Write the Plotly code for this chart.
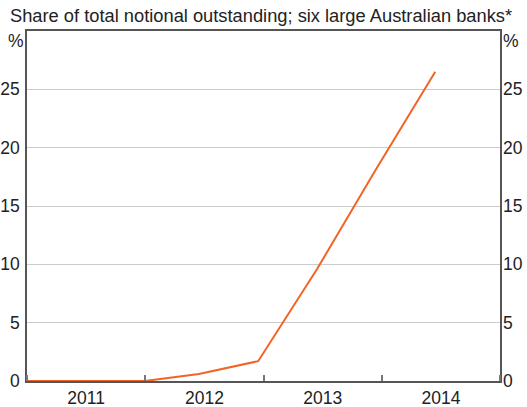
import plotly.graph_objects as go

# semi-annual observations
dates = ['2010-12-15', '2011-06-15', '2011-12-31', '2012-06-15', '2012-12-15',
         '2013-06-15', '2013-12-15', '2014-06-15']
share = [0, 0, 0, 0.6, 1.7, 9.6, 18.2, 26.5]

y_ticks = [0, 5, 10, 15, 20, 25]
y_text = ['0', '5', '10', '15', '20', '25']

subtitle = 'Share of total notional outstanding; six large Australian banks*'

tick_font = dict(family='Arial, Liberation Sans, sans-serif', size=17.5, color='#222222')
sub_font = dict(family='Arial, Liberation Sans, sans-serif', size=18.3, color='#222222')

fig = go.Figure()
fig.add_trace(go.Scatter(x=dates, y=share, mode='lines',
                         line=dict(color='#F26425', width=2), showlegend=False))
# copy on the right axis so it gets drawn
fig.add_trace(go.Scatter(x=dates, y=share, mode='lines', yaxis='y2',
                         line=dict(color='rgba(0,0,0,0)', width=0),
                         hoverinfo='skip', showlegend=False))

fig.update_layout(
    width=527, height=407,
    margin=dict(l=27, r=27, t=31, b=26),
    paper_bgcolor='white', plot_bgcolor='white',
    font=tick_font,
    xaxis=dict(type='date', range=['2011-01-01', '2015-01-01'],
               tick0='2011-01-01', dtick='M12', tickformat='%Y',
               ticklabelmode='period', ticks='inside', ticklen=6,
               tickcolor='#777777', tickwidth=1.5, automargin=False,
               showgrid=False, showline=True, linecolor='#555555',
               linewidth=1.5, mirror=True, tickfont=tick_font,
               ticklabelstandoff=0),
    yaxis=dict(range=[0, 30], tickvals=y_ticks, ticktext=y_text,
               showgrid=True, gridcolor='#cccccc', gridwidth=1,
               zeroline=False, ticks='', showline=True, linecolor='#555555',
               linewidth=1.5, mirror=True, tickfont=tick_font,
               automargin=False, ticklabelstandoff=2),
    yaxis2=dict(range=[0, 30], tickvals=y_ticks, ticktext=y_text,
                overlaying='y', side='right', showgrid=False, zeroline=False,
                ticks='', showline=False, tickfont=tick_font,
                automargin=False, ticklabelstandoff=2),
    annotations=[
        dict(text=subtitle, x=0.5, xref='paper', y=1.0, yref='paper',
             yanchor='bottom', xshift=-3, yshift=3, showarrow=False, font=sub_font),
        dict(text='%', x=0, xref='paper', y=30, yref='y', xanchor='right',
             yanchor='top', xshift=-1, yshift=2, showarrow=False, font=tick_font),
        dict(text='%', x=1, xref='paper', y=30, yref='y', xanchor='left',
             yanchor='top', xshift=1, yshift=2, showarrow=False, font=tick_font),
    ],
)

# page has a default body margin; drop it so the figure fills the window
fig.write_html('out.html', config={'displayModeBar': False},
               post_script="document.body.style.margin='0px';")
